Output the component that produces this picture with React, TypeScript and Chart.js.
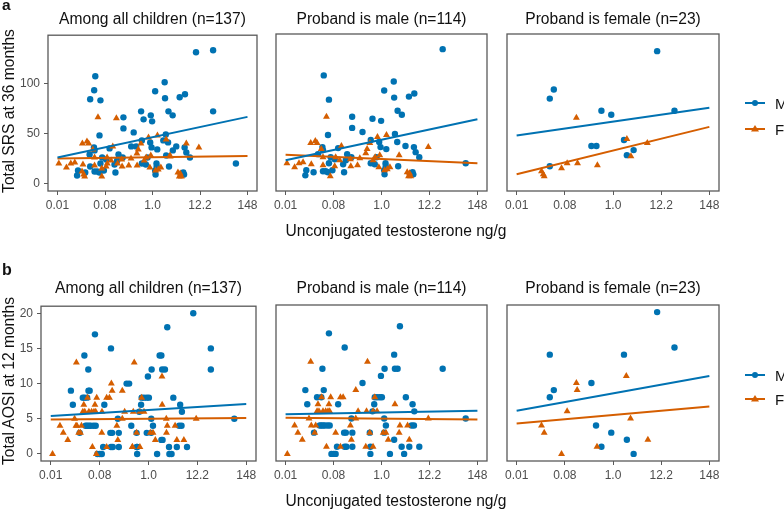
import React, { useEffect, useRef } from 'react';
import { Chart, registerables } from 'chart.js';
Chart.register(...registerables);

type Pt = [number, number];

const FONT = '"Liberation Sans", Arial, Helvetica, sans-serif';
const BLUE = '#0072B2';
const ORANGE = '#D55E00';

// x axis: natural log of unconjugated testosterone (ng/g)
const xTickLn = [-5, -2.5, 0, 2.5, 5];
const xTickLabels = ['0.01', '0.08', '1.0', '12.2', '148'];
const lineEndsLn = [-5, 5];
const srsTicks = [0, 50, 100];
const aosiTicks = [0, 5, 10, 15, 20];

const panelTitles = ['Among all children (n=137)', 'Proband is male (n=114)', 'Proband is female (n=23)'];
const legendLabels = ['M', 'F'];

// ---- (a) SRS at 36 months: proband male ----
const srsMaleProband_M: Pt[] = [
  [3.19, 133], [-3.01, 107], [0.64, 101], [0.14, 92], [1.71, 89], [1.43, 86], [0.66, 85], [-2.74, 83],
  [0.84, 72], [1.06, 68], [-1.53, 66], [-0.47, 64], [-0.02, 62], [-1.53, 55], [-0.99, 51], [-2.79, 48],
  [0.70, 49], [-0.56, 43], [-0.12, 41], [0.82, 41], [1.25, 37], [1.69, 36], [1.78, 31], [1.97, 26],
  [-3.08, 36], [-3.05, 33], [-2.26, 35], [-1.79, 29], [-1.57, 26], [-2.65, 26], [-2.44, 24], [-1.86, 23],
  [-2.0, 19], [-2.74, 20], [-3.31, 29], [-3.54, 11], [-3.92, 13], [-3.97, 8], [-3.05, 12], [-2.91, 12],
  [-2.79, 11], [-2.56, 13], [-1.95, 11], [-0.56, 20], [-0.35, 19], [-0.26, 26], [0.21, 20], [0.22, 17],
  [0.16, 9], [0.14, 13], [0.87, 17], [1.66, 9], [1.62, 11], [4.39, 20], [-0.05, 36], [0.25, 34],
];
const srsMaleProband_F: Pt[] = [
  [-2.87, 66], [-3.69, 40], [-3.45, 42], [-3.36, 40], [-2.09, 37], [0.26, 48], [-0.21, 46], [-0.61, 40],
  [-0.75, 34], [-0.82, 30], [2.44, 36], [0.92, 28], [-4.93, 20], [-4.53, 16], [-4.30, 20], [-4.09, 21],
  [-3.66, 19], [-3.05, 18], [-2.67, 7], [-2.44, 17], [-2.39, 26], [-2.18, 23], [-1.60, 17], [-1.25, 18],
  [-0.44, 23], [-0.33, 26], [-0.14, 16], [0.16, 13], [0.30, 14], [0.44, 16], [1.46, 10], [1.41, 7],
  [1.52, 7], [1.34, 11], [-1.62, 24], [-3.05, 26], [-3.14, 34], [-1.13, 25], [-0.09, 28],
];
// ---- (a) SRS at 36 months: proband female ----
const srsFemaleProband_M: Pt[] = [
  [2.29, 131], [-3.07, 93], [-3.28, 84], [-0.60, 72], [-0.09, 68], [3.19, 72], [-1.12, 37], [-0.86, 37],
  [0.57, 43], [0.72, 28], [1.07, 33], [-3.28, 17],
];
const srsFemaleProband_F: Pt[] = [
  [-1.90, 65], [0.72, 44], [0.93, 27], [1.78, 40], [-3.71, 12], [-3.62, 9], [-3.57, 7], [-2.67, 15],
  [-2.38, 20], [-1.84, 20], [-0.81, 18],
];
// fitted lines, value at ln = -5 and ln = 5
const srsLineAll_M = [26, 66.5];
const srsLineAll_F = [25, 27.5];
const srsLineMale_M = [23, 63.5];
const srsLineMale_F = [28.5, 20];
const srsLineFemale_M = [47.5, 75];
const srsLineFemale_F = [9, 56];

// ---- (b) AOSI at 12 months: proband male ----
const aosiMaleProband_M: Pt[] = [
  [0.96, 18], [-2.74, 17], [-1.92, 15], [0.66, 14], [-3.08, 12], [0.16, 12], [0.70, 12], [0.84, 12],
  [3.19, 12], [-0.03, 11], [-0.99, 10], [-3.97, 9], [-3.01, 9], [-3.36, 8], [-3.14, 8], [-0.35, 8],
  [-0.23, 8], [-0.09, 8], [0.02, 8], [1.27, 8], [-3.87, 7], [-2.26, 7], [-0.38, 7], [1.62, 7],
  [1.71, 6], [-0.47, 6], [-1.57, 5], [0.14, 5], [4.39, 5], [-3.22, 4], [-3.14, 4], [-3.05, 4],
  [-2.96, 4], [-2.82, 4], [-2.70, 4], [0.23, 4], [1.57, 4], [1.69, 4], [-3.52, 3], [-1.95, 3],
  [-1.86, 3], [-1.52, 3], [-0.61, 3], [0.14, 3], [0.66, 2], [-2.32, 1], [-1.92, 1], [-1.83, 1],
  [-1.52, 1], [-0.58, 1], [1.05, 1], [1.45, 1], [1.97, 1], [-2.61, 0], [-2.49, 0], [-2.39, 0],
  [-0.58, 0], [0.44, 0], [1.18, 0],
];
const aosiMaleProband_F: Pt[] = [
  [-3.69, 13], [-0.73, 13], [-1.34, 9], [-2.14, 8], [-2.0, 8], [-2.65, 8], [-3.12, 8], [-0.35, 8],
  [-3.31, 7], [-2.74, 7], [0.70, 7], [-3.36, 6], [-3.26, 6], [-3.05, 6], [-2.91, 6], [-2.79, 6],
  [-2.70, 6], [-1.22, 6], [-0.78, 6], [-0.44, 6], [-0.23, 6], [-1.34, 5], [-3.78, 5], [2.44, 5],
  [-4.53, 4], [-3.66, 4], [-3.43, 4], [-1.62, 4], [0.96, 4], [1.36, 4], [-4.36, 3], [-3.48, 3],
  [-2.39, 3], [-0.61, 3], [0.09, 3], [0.23, 3], [-4.13, 2], [-1.57, 2], [0.35, 2], [0.92, 3],
  [1.45, 2], [-2.87, 1], [-0.82, 1], [-0.44, 1], [-2.14, 1], [-4.91, 0],
];
// ---- (b) AOSI at 12 months: proband female ----
const aosiFemaleProband_M: Pt[] = [
  [2.29, 20], [3.19, 15], [-3.28, 14], [0.57, 14], [-1.12, 10], [-3.07, 9], [-3.28, 8], [-0.88, 4],
  [-0.09, 3], [0.72, 2], [-0.60, 1], [1.07, 0],
];
const aosiFemaleProband_F: Pt[] = [
  [0.69, 11], [-1.90, 10], [-1.86, 9], [-2.38, 6], [0.91, 5], [-3.71, 4], [-3.57, 3], [1.81, 2],
  [-0.83, 1], [-2.67, 0],
];
const aosiLineAll_M = [5.4, 7.1];
const aosiLineAll_F = [4.9, 5.1];
const aosiLineMale_M = [5.6, 6.1];
const aosiLineMale_F = [5.1, 4.85];
const aosiLineFemale_M = [6.1, 11];
const aosiLineFemale_F = [4.3, 6.7];

type PanelCfg = {
  box: [number, number, number, number];
  yMin: number; yMax: number; yTicks: number[]; showY: boolean;
  m: Pt[]; f: Pt[]; lineM: number[]; lineF: number[];
};

const panels: PanelCfg[] = [
  { box: [48, 34, 257, 191], yMin: -7.5, yMax: 148, yTicks: srsTicks, showY: true,
    m: [...srsMaleProband_M, ...srsFemaleProband_M], f: [...srsMaleProband_F, ...srsFemaleProband_F],
    lineM: srsLineAll_M, lineF: srsLineAll_F },
  { box: [276, 34, 487, 191], yMin: -7.5, yMax: 148, yTicks: srsTicks, showY: false,
    m: srsMaleProband_M, f: srsMaleProband_F, lineM: srsLineMale_M, lineF: srsLineMale_F },
  { box: [507, 34, 719, 191], yMin: -7.5, yMax: 148, yTicks: srsTicks, showY: false,
    m: srsFemaleProband_M, f: srsFemaleProband_F, lineM: srsLineFemale_M, lineF: srsLineFemale_F },
  { box: [41, 305, 256, 461], yMin: -1, yMax: 21, yTicks: aosiTicks, showY: true,
    m: [...aosiMaleProband_M, ...aosiFemaleProband_M], f: [...aosiMaleProband_F, ...aosiFemaleProband_F],
    lineM: aosiLineAll_M, lineF: aosiLineAll_F },
  { box: [276, 305, 487, 461], yMin: -1, yMax: 21, yTicks: aosiTicks, showY: false,
    m: aosiMaleProband_M, f: aosiMaleProband_F, lineM: aosiLineMale_M, lineF: aosiLineMale_F },
  { box: [507, 305, 719, 461], yMin: -1, yMax: 21, yTicks: aosiTicks, showY: false,
    m: aosiFemaleProband_M, f: aosiFemaleProband_F, lineM: aosiLineFemale_M, lineF: aosiLineFemale_F },
];

const framePlugin = {
  id: 'frame',
  afterDatasetsDraw(chart: any) {
    const { ctx, chartArea: a } = chart;
    ctx.save();
    ctx.strokeStyle = '#595959';
    ctx.lineWidth = 1.3;
    ctx.strokeRect(a.left, a.top, a.right - a.left, a.bottom - a.top);
    ctx.restore();
  },
};

function Panel({ cfg }: { cfg: PanelCfg }) {
  const ref = useRef<HTMLCanvasElement>(null);
  const [l, t, r, b] = cfg.box;
  const yW = cfg.showY ? 40 : 0;
  const padL = cfg.showY ? 0 : 20;
  const padR = 20, padT = 10, xH = 26;
  const W = padL + yW + (r - l) + padR;
  const H = padT + (b - t) + xH;

  useEffect(() => {
    const toPts = (arr: Pt[]) => arr.map(([x, y]) => ({ x, y }));
    const toLine = (vals: number[]) => lineEndsLn.map((x, i) => ({ x, y: vals[i] }));
    const tickFont = { family: FONT, size: 12 };
    const chart = new Chart(ref.current!, {
      type: 'scatter',
      data: {
        datasets: [
          { label: 'M fit', data: toLine(cfg.lineM), showLine: true, borderColor: BLUE, borderWidth: 2,
            pointRadius: 0, order: 0 },
          { label: 'F fit', data: toLine(cfg.lineF), showLine: true, borderColor: ORANGE, borderWidth: 2,
            pointRadius: 0, order: 0 },
          { label: 'F', data: toPts(cfg.f), pointStyle: 'triangle', pointRadius: 4, backgroundColor: ORANGE,
            borderColor: ORANGE, borderWidth: 0, order: 1 },
          { label: 'M', data: toPts(cfg.m), pointStyle: 'circle', pointRadius: 3.2, backgroundColor: BLUE,
            borderColor: BLUE, borderWidth: 0, order: 2 },
        ],
      } as any,
      options: {
        animation: false,
        responsive: false,
        devicePixelRatio: 1,
        layout: { padding: { left: padL, right: padR, top: padT, bottom: 0 } },
        plugins: { legend: { display: false }, tooltip: { enabled: false }, title: { display: false } },
        scales: {
          x: {
            type: 'linear', min: -5.5, max: 5.5,
            afterBuildTicks: (ax: any) => { ax.ticks = xTickLn.map((v) => ({ value: v })); },
            afterFit: (ax: any) => { ax.height = xH; },
            grid: { drawOnChartArea: false, drawTicks: true, tickLength: 4, tickColor: '#595959', tickWidth: 1 },
            border: { display: false },
            ticks: { callback: (_v: any, i: number) => xTickLabels[i], color: '#4D4D4D', font: tickFont,
              padding: 3, maxRotation: 0, autoSkip: false },
          },
          y: {
            type: 'linear', min: cfg.yMin, max: cfg.yMax, display: cfg.showY,
            afterBuildTicks: (ax: any) => { ax.ticks = cfg.yTicks.map((v) => ({ value: v })); },
            afterFit: (ax: any) => { ax.width = yW; },
            grid: { drawOnChartArea: false, drawTicks: true, tickLength: 4, tickColor: '#595959', tickWidth: 1 },
            border: { display: false },
            ticks: { color: '#4D4D4D', font: tickFont, padding: 4, autoSkip: false },
          },
        },
      } as any,
      plugins: [framePlugin],
    });
    return () => chart.destroy();
  }, []);

  return (
    <canvas ref={ref} width={W} height={H}
      style={{ position: 'absolute', left: l - padL - yW, top: t - padT, width: W, height: H }} />
  );
}

function Txt({ x, y, children, size = 15.6, bold = false, rotate = false, align = 'center', color = '#111' }:
  { x: number; y: number; children: any; size?: number; bold?: boolean; rotate?: boolean; align?: string; color?: string }) {
  return (
    <div style={{
      position: 'absolute', left: x, top: y,
      transform: `translate(${align === 'center' ? '-50%' : '0'}, -50%)${rotate ? ' rotate(-90deg)' : ''}`,
      fontFamily: FONT, fontSize: size, lineHeight: 1, whiteSpace: 'nowrap',
      fontWeight: bold ? 700 : 400, color,
    }}>{children}</div>
  );
}

function LegendKey({ x, y, color, shape }: { x: number; y: number; color: string; shape: 'circle' | 'triangle' }) {
  return (
    <svg style={{ position: 'absolute', left: x, top: y - 6 }} width={20} height={12}>
      <line x1={0} y1={6} x2={20} y2={6} stroke={color} strokeWidth={2} />
      {shape === 'circle'
        ? <circle cx={10} cy={6} r={3} fill={color} />
        : <polygon points="10,2 14,8.5 6,8.5" fill={color} />}
    </svg>
  );
}

export default function App() {
  const rowTitleY = [18.7, 287.5];
  const xTitleY = [231, 501];
  const yTitle = [
    { text: 'Total SRS at 36 months', y: 111 },
    { text: 'Total AOSI at 12 months', y: 381 },
  ];
  const legendY = [[103, 129], [375, 399]];
  return (
    <div style={{ position: 'absolute', left: 0, top: 0, width: 784, height: 512, background: '#fff', overflow: 'hidden' }}>
      {panels.map((p, i) => <Panel key={i} cfg={p} />)}
      {panels.map((p, i) => (
        <Txt key={'t' + i} x={(p.box[0] + p.box[2]) / 2} y={rowTitleY[i < 3 ? 0 : 1]}>{panelTitles[i % 3]}</Txt>
      ))}
      {xTitleY.map((y, i) => <Txt key={'xt' + i} x={396} y={y}>Unconjugated testosterone ng/g</Txt>)}
      {yTitle.map((yt, i) => <Txt key={'yt' + i} x={8.5} y={yt.y} rotate>{yt.text}</Txt>)}
      <Txt x={2} y={4.6} bold size={15.5} align="left">a</Txt>
      <Txt x={2} y={270} bold size={16} align="left">b</Txt>
      {legendY.map((ys, i) => (
        <React.Fragment key={'lg' + i}>
          <LegendKey x={745} y={ys[0]} color={BLUE} shape="circle" />
          <LegendKey x={745} y={ys[1]} color={ORANGE} shape="triangle" />
          <Txt x={775} y={ys[0]} align="left" size={15}>{legendLabels[0]}</Txt>
          <Txt x={775} y={ys[1]} align="left" size={15}>{legendLabels[1]}</Txt>
        </React.Fragment>
      ))}
    </div>
  );
}
